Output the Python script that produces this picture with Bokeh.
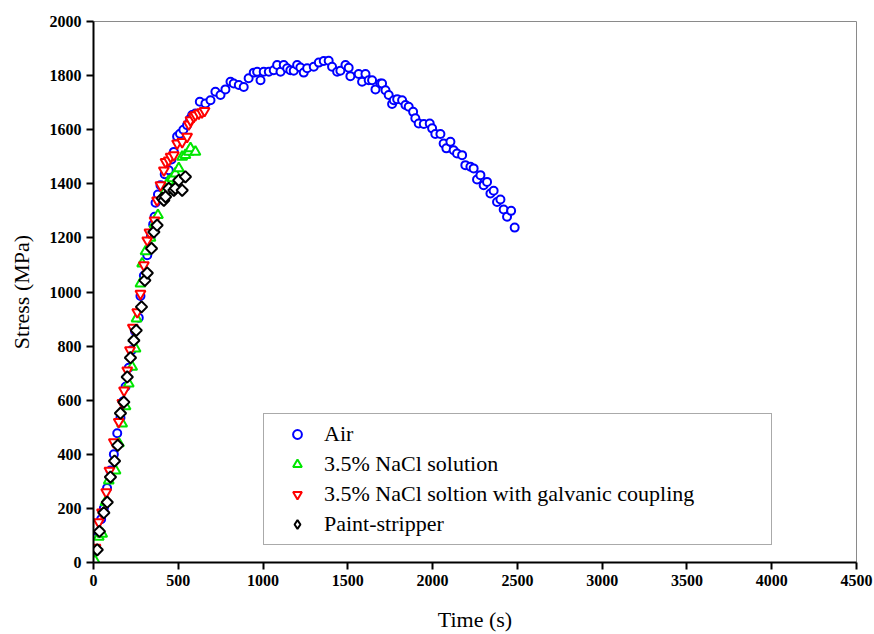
import numpy as np
from bokeh.plotting import figure
from bokeh.models import Range1d, Legend, LegendItem, FixedTicker
from bokeh.embed import file_html
from bokeh.resources import INLINE

# ---- data ----
air_t = [12, 31, 45, 61, 80, 100, 120, 140, 159, 175, 189, 208, 225, 245, 267, 277, 297, 317, 338, 352,
         360, 366, 380, 395, 420, 444, 460, 474, 493, 510, 530, 552, 570, 582, 601, 627, 660, 690, 719, 749,
         778, 808, 827, 857, 886, 915, 945, 965, 985, 1004, 1034, 1063, 1083, 1103, 1122, 1142, 1161, 1181,
         1201, 1220, 1240, 1260, 1299, 1329, 1358, 1387, 1407, 1437, 1456, 1486, 1505, 1515, 1564, 1584,
         1604, 1623, 1643, 1663, 1692, 1702, 1722, 1741, 1761, 1771, 1791, 1820, 1840, 1859, 1885, 1898,
         1918, 1948, 1983, 1997, 2016, 2046, 2065, 2081, 2105, 2124, 2144, 2174, 2193, 2223, 2242, 2262,
         2282, 2301, 2321, 2341, 2360, 2380, 2400, 2419, 2439, 2463, 2484]
air_s = [45, 110, 160, 200, 275, 340, 400, 478, 535, 595, 650, 720, 785, 855, 905, 985, 1060, 1136, 1205, 1250,
         1278, 1330, 1360, 1395, 1435, 1450, 1490, 1518, 1575, 1585, 1600, 1617, 1640, 1654, 1660, 1703, 1697, 1709, 1740, 1728,
         1749, 1777, 1771, 1765, 1758, 1790, 1811, 1814, 1783, 1814, 1814, 1820, 1839, 1814, 1839, 1827, 1820, 1818,
         1839, 1830, 1811, 1827, 1833, 1848, 1854, 1855, 1833, 1814, 1818, 1839, 1829, 1798, 1806, 1777,
         1806, 1783, 1783, 1749, 1771, 1771, 1746, 1728, 1695, 1709, 1713, 1709, 1691, 1685, 1666, 1642,
         1623, 1621, 1623, 1605, 1584, 1584, 1549, 1531, 1555, 1524, 1512, 1506, 1469, 1463, 1457, 1416,
         1432, 1395, 1407, 1364, 1374, 1333, 1342, 1305, 1278, 1300, 1238]

nacl_t = [8, 31, 51, 71, 90, 130, 150, 169, 189, 208, 228, 248, 254, 277, 287, 307, 336, 360, 380,
          405, 425, 444, 464, 483, 503, 523, 542, 562, 572, 601]
nacl_s = [7, 95, 106, 223, 303, 340, 440, 513, 577, 661, 723, 791, 902, 1031, 1105, 1150, 1200, 1250, 1284,
          1350, 1376, 1410, 1420, 1438, 1457, 1500, 1506, 1518, 1531, 1518]

galv_t = [12, 31, 50, 75, 94, 120, 149, 170, 180, 199, 215, 232, 258, 277, 297, 317, 330, 360, 375, 395,
          415, 425, 444, 455, 474, 493, 523, 552, 562, 572, 591, 601, 621, 640, 655]
galv_s = [55, 149, 185, 260, 340, 445, 520, 590, 636, 710, 785, 868, 926, 994, 1099, 1191, 1220, 1265, 1339, 1395,
          1450, 1481, 1487, 1500, 1506, 1549, 1555, 1574, 1620, 1635, 1648, 1654, 1660, 1665, 1670]

paint_t = [22, 35, 61, 81, 100, 124, 143, 159, 179, 199, 218, 238, 252, 283, 303, 317, 342, 356, 375,
           405, 415, 425, 444, 474, 483, 503, 523, 542]
paint_s = [47, 115, 184, 223, 316, 375, 433, 552, 593, 686, 757, 821, 858, 945, 1043, 1070, 1161, 1222, 1247,
           1346, 1339, 1352, 1383, 1376, 1383, 1413, 1376, 1426]

labels = ["Air", "3.5% NaCl solution", "3.5% NaCl soltion with galvanic coupling", "Paint-stripper"]
x_ticks = [0, 500, 1000, 1500, 2000, 2500, 3000, 3500, 4000, 4500]
y_ticks = [0, 200, 400, 600, 800, 1000, 1200, 1400, 1600, 1800, 2000]

SERIF = "Liberation Serif"
GREEN = "#00E600"

p = figure(width=874, height=634, output_backend="svg", toolbar_location=None,
           x_range=Range1d(0, 4500), y_range=Range1d(0, 2000),
           min_border_left=93, min_border_right=18, min_border_top=21, min_border_bottom=72)
p.background_fill_color = "white"
p.border_fill_color = "white"
p.outline_line_color = "#8a8a8a"
p.outline_line_width = 1
p.xgrid.visible = False
p.ygrid.visible = False

for ax, ticks in ((p.xaxis[0], x_ticks), (p.yaxis[0], y_ticks)):
    ax.ticker = FixedTicker(ticks=ticks)
    ax.axis_line_width = 2
    ax.axis_line_color = "black"
    ax.major_tick_line_width = 2
    ax.major_tick_line_color = "black"
    ax.major_tick_out = 7
    ax.major_tick_in = 0
    ax.minor_tick_line_color = None
    ax.major_label_text_font = SERIF
    ax.major_label_text_font_style = "bold"
    ax.major_label_text_font_size = "16px"
    ax.major_label_text_color = "black"
    ax.major_label_standoff = 5
    ax.axis_label_text_font = SERIF
    ax.axis_label_text_font_style = "normal"
    ax.axis_label_text_font_size = "22px"
    ax.axis_label_text_color = "black"

p.xaxis.axis_label = "Time (s)"
p.yaxis.axis_label = "Stress (MPa)"
p.xaxis.axis_label_standoff = 18
p.yaxis.axis_label_standoff = 13

r_air = p.scatter(air_t, air_s, marker="circle", size=8, line_color="#0000FF", line_width=2, fill_color="white")
r_nacl = p.scatter(nacl_t, nacl_s, marker="triangle", size=10, line_color=GREEN, line_width=2, fill_color="white")
r_galv = p.scatter(galv_t, galv_s, marker="inverted_triangle", size=10, line_color="#FF0000", line_width=2, fill_color="white")
# diamond key for the legend: drawn first, completely covered by the rotated squares below
r_paint_key = p.scatter(paint_t, paint_s, marker="diamond", size=9, line_color="black", line_width=2, fill_color="white")
r_paint = p.scatter(paint_t, paint_s, marker="square", angle=np.pi / 4, size=8, line_color="black", line_width=2, fill_color="white")

legend = Legend(items=[LegendItem(label=labels[0], renderers=[r_air]),
                       LegendItem(label=labels[1], renderers=[r_nacl]),
                       LegendItem(label=labels[2], renderers=[r_galv]),
                       LegendItem(label=labels[3], renderers=[r_paint_key])],
                location=(170, 17))
legend.padding = 7
legend.spacing = 4
legend.margin = 0
legend.glyph_width = 52
legend.glyph_height = 22
legend.label_height = 22
legend.label_width = 440
legend.label_standoff = 1
legend.label_text_font = SERIF
legend.label_text_font_size = "22px"
legend.label_text_color = "black"
legend.border_line_color = "#555555"
legend.border_line_width = 1
legend.background_fill_color = "white"
legend.background_fill_alpha = 1.0
p.add_layout(legend, "center")

open("out.html", "w").write(file_html(p, INLINE))
